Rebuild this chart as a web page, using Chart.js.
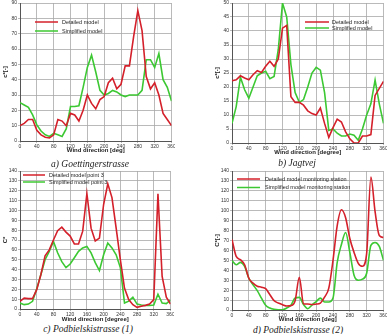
<!DOCTYPE html>
<html>
<head>
<meta charset="utf-8">
<script src="https://cdn.jsdelivr.net/npm/chart.js"></script>
<style>
body { margin:0; background:#fff; width:387px; height:334px; overflow:hidden; position:relative; }
canvas { position:absolute; }
.cap { position:absolute; font-family:"Liberation Serif","DejaVu Serif",serif; font-style:italic; font-size:9.5px; color:#222; white-space:nowrap; transform:translate(-50%,-50%); }
</style>
</head>
<body>
<canvas id="chartA" width="175" height="154" style="left:0;top:0"></canvas>
<canvas id="chartB" width="175" height="156" style="left:212px;top:0"></canvas>
<canvas id="chartC" width="174" height="155" style="left:0;top:168px"></canvas>
<canvas id="chartD" width="175" height="155" style="left:212px;top:168px"></canvas>
<div class="cap" style="left:90px;top:164px">a) Goettingerstrasse</div>
<div class="cap" style="left:297px;top:163px">b) Jagtvej</div>
<div class="cap" style="left:88px;top:329px">c) Podbielskistrasse (1)</div>
<div class="cap" style="left:298px;top:330px">d) Podbielskistrasse (2)</div>
<script>
// wind direction in degrees, one value every 10 deg
const windDir = [0,10,20,30,40,50,60,70,80,90,100,110,120,130,140,150,160,170,180,
                 190,200,210,220,230,240,250,260,270,280,290,300,310,320,330,340,350,360]
const xTicks = [0,40,80,120,160,200,240,280,320,360]

// a) Goettingerstrasse
const goettDetailed = [10,11.5,14,14,7,4,2.5,2,4,14,13,10,18,17,13,20,30,24.5,21,
                       27,29,38,41,34,37,49,49,68,85,72,42,34,38,30,18,14,10]
const goettSimplified = [25,23.5,22,17,10.5,6.5,4,3,5,4,3,8,22.5,22.5,23,35,48,56,45,
                         33,30,31,33,32,30,29,30,30,30,33,53,53,48,57,40,35,26]

// b) Jagtvej
const jagDetailed = [22.2,22.6,24,23.2,22.6,24.4,25.8,25.2,27.4,29.2,27.4,30,41,42,16.5,14.5,14.5,13.5,11.5,
                     10.5,10,12.5,7,2,5.5,8.5,7.5,4,1.5,0,0,2.5,2.5,3,17,19.5,22]
const jagSimplified = [7,13,23.5,19,16,20,24,25,25.6,23,23.8,33.4,50,45,28,18,14.5,15.5,20,
                       25,27,26,18,4.5,5,3.5,2.5,2.5,3.2,2.8,1,5,10,14,22.5,14,7]

// c) Podbielskistrasse (1)
const podDetailed1 = [7.8,11,10.5,10.5,19.6,35,54,60,70,79.5,83,78,74,66,66,79,117,82,69,
                      72,106,127,113,82,50,21,9.5,4.4,1.7,2.7,3.7,5,9.5,117,33,12,5]
const podSimplified1 = [6,4.4,5,7.8,20.6,35,50,58.5,68.6,57,48,42,45.6,52,58.5,62,63.5,57,47,
                        39,55,67,62,55,42,6,8,12,5,4,3.5,3.5,4,15,6,5.5,9]

// d) Podbielskistrasse (2)
const podDetailed2 = [71,54,50.7,45.6,32,27,24,23,21.5,15.4,9.4,7,5.4,4,4.4,9.4,33,6,6,
                      5.5,6,7,13,22,50,85,101,93,72,58,47,44,57,134,99,75,73]
const podSimplified2 = [49.7,45.6,48,44,32,25.5,19.5,12,4.7,2,0.7,0.3,0.3,2,4.7,12,12.7,5.4,1.3,
                        5,8.5,12,8,8,12,48,66,78,58,35,30,31,37,65,68,64,50]

const RED = '#d4202a'
const GREEN = '#3cc832'
const GRID = '#a8a8a8'

// legend drawn inside the plot area, like the original figure
const insideLegend = {
  id: 'insideLegend',
  afterDatasetsDraw(chart, args, opts) {
    const {ctx, chartArea} = chart
    ctx.save()
    ctx.font = '5.5px "Liberation Sans", Arial, sans-serif'
    ctx.textBaseline = 'middle'
    chart.data.datasets.forEach((ds, i) => {
      const x = chartArea.left + opts.left
      const y = chartArea.top + opts.top + i * opts.gap
      ctx.strokeStyle = ds.borderColor
      ctx.lineWidth = 1.5
      ctx.beginPath()
      ctx.moveTo(x, y)
      ctx.lineTo(x + opts.len, y)
      ctx.stroke()
      ctx.fillStyle = '#222'
      ctx.fillText(ds.label, x + opts.len + opts.pad, y)
    })
    ctx.restore()
  }
}

const makeChart = function (id, detailed, simplified, labels, yMax, yStep, xTitle, yTitle, legendAt, xHeight, smooth) {
  const toPoints = vals => windDir.map((d, i) => ({x: d, y: vals[i]}))
  new Chart(document.getElementById(id), {
    type: 'line',
    data: {
      datasets: [
        {label: labels[0], data: toPoints(detailed), borderColor: RED, borderWidth: 1.6,
         pointRadius: 0, tension: 0, cubicInterpolationMode: smooth ? 'monotone' : 'default'},
        {label: labels[1], data: toPoints(simplified), borderColor: GREEN, borderWidth: 1.6,
         pointRadius: 0, tension: 0, cubicInterpolationMode: smooth ? 'monotone' : 'default'}
      ]
    },
    options: {
      responsive: false,
      animation: false,
      layout: {padding: {top: 3, right: 3.5, left: 0, bottom: 0}},
      plugins: {
        legend: {display: false},
        tooltip: {enabled: false},
        insideLegend: legendAt
      },
      scales: {
        x: {
          type: 'linear', min: 0, max: 360,
          afterBuildTicks: s => { s.ticks = xTicks.map(v => ({value: v})) },
          afterFit: s => { s.height = xHeight; s.paddingLeft = 0; s.paddingRight = 0 },
          ticks: {font: {size: 5, family: 'Liberation Sans'}, color: '#333', padding: 1, maxRotation: 0, autoSkip: false},
          grid: {color: GRID, lineWidth: 0.8, tickLength: 2},
          border: {color: '#555', width: 1},
          title: {display: true, text: xTitle, padding: 0, color: '#222',
                  font: {size: 6, weight: 'bold', family: 'Liberation Sans'}}
        },
        y: {
          min: 0, max: yMax,
          afterFit: s => { s.width = 20; s.paddingTop = 0; s.paddingBottom = 0 },
          ticks: {stepSize: yStep, font: {size: 5, family: 'Liberation Sans'}, color: '#333', padding: 1, autoSkip: false},
          grid: {color: GRID, lineWidth: 0.8, tickLength: 2},
          border: {color: '#555', width: 1},
          title: {display: true, text: yTitle, padding: 2, color: '#222',
                  font: {size: 6, weight: 'bold', family: 'Liberation Sans'}}
        }
      }
    },
    plugins: [insideLegend]
  })
}

makeChart('chartA', goettDetailed, goettSimplified, ['Detailed model', 'Simplified model'],
  90, 10, 'Wind direction [deg]', 'c*[-]', {left: 15, top: 19, gap: 9, len: 23, pad: 4}, 13, false)
makeChart('chartB', jagDetailed, jagSimplified, ['Detailed model', 'Simplified model'],
  50, 5, 'Wind direction [degree]', 'c*[-]', {left: 73, top: 19, gap: 6, len: 24, pad: 3}, 13, false)
makeChart('chartC', podDetailed1, podSimplified1, ['Detailed model point 3', 'Simplified model point 3'],
  140, 10, 'Wind direction [degree]', 'C*', {left: 3, top: 4, gap: 7, len: 22, pad: 4}, 14, false)
makeChart('chartD', podDetailed2, podSimplified2, ['Detailed model monitoring station', 'Simplified model monitoring station'],
  140, 10, 'Wind direction [deg]', 'C*[-]', {left: 5, top: 8, gap: 8.5, len: 23, pad: 5}, 13, true)
</script>
</body>
</html>
